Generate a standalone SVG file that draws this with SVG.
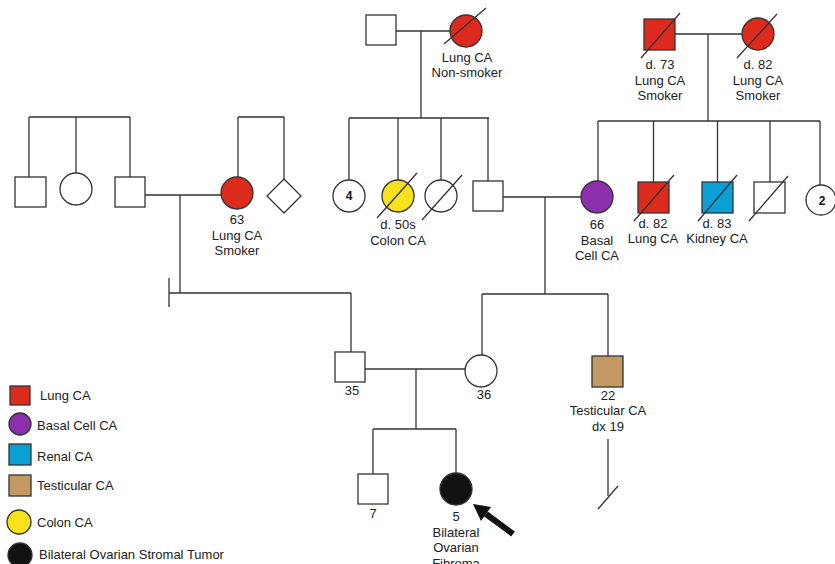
<svg xmlns="http://www.w3.org/2000/svg" width="835" height="564" viewBox="0 0 835 564">
<defs>
<style>
.ln{stroke:#333;stroke-width:1.3;fill:none}
.sh{stroke:#333;stroke-width:1.3}
.t{font-family:"Liberation Sans",Arial,sans-serif;font-size:13px;fill:#222;text-anchor:middle}
.tl{font-family:"Liberation Sans",Arial,sans-serif;font-size:13px;fill:#222}
.n{font-family:"Liberation Sans",Arial,sans-serif;font-size:12px;font-weight:bold;fill:#111;text-anchor:middle}
.w{fill:#fff}
.red{fill:#dc2a1d}
.pur{fill:#8b2fae}
.blu{fill:#0aa0d5}
.brn{fill:#c49a64}
.yel{fill:#f9e11b}
.blk{fill:#111}
</style>
</defs>
<rect width="835" height="564" fill="#fff"/>
<g id="connectors" class="ln">
<!-- top middle couple -->
<line x1="396" y1="31" x2="450" y2="31"/>
<line x1="421" y1="31" x2="421" y2="118"/>
<line x1="349" y1="118" x2="489" y2="118"/>
<line x1="349" y1="118" x2="349" y2="180"/>
<line x1="398" y1="118" x2="398" y2="180"/>
<line x1="441" y1="118" x2="441" y2="180"/>
<line x1="488" y1="118" x2="488" y2="181"/>
<!-- top right couple -->
<line x1="675" y1="34" x2="742" y2="34"/>
<line x1="708" y1="34" x2="708" y2="121"/>
<line x1="598" y1="121" x2="820" y2="121"/>
<line x1="598" y1="121" x2="598" y2="181"/>
<line x1="653.5" y1="121" x2="653.5" y2="182"/>
<line x1="717.5" y1="121" x2="717.5" y2="182"/>
<line x1="770" y1="121" x2="770" y2="182"/>
<line x1="820" y1="121" x2="820" y2="185"/>
<!-- left sibships -->
<line x1="29" y1="117" x2="130" y2="117"/>
<line x1="29" y1="117" x2="29" y2="177"/>
<line x1="76" y1="117" x2="76" y2="173"/>
<line x1="130" y1="117" x2="130" y2="177"/>
<line x1="238" y1="117" x2="284" y2="117"/>
<line x1="238" y1="117" x2="238" y2="177"/>
<line x1="284" y1="117" x2="284" y2="179"/>
<!-- left couple -->
<line x1="145" y1="195" x2="221" y2="195"/>
<line x1="180" y1="195" x2="180" y2="293"/>
<line x1="169" y1="278" x2="169" y2="307"/>
<line x1="169" y1="293" x2="351" y2="293"/>
<line x1="351" y1="293" x2="351" y2="352"/>
<!-- middle couple -->
<line x1="503" y1="197" x2="581" y2="197"/>
<line x1="545" y1="197" x2="545" y2="294"/>
<line x1="482" y1="294" x2="608" y2="294"/>
<line x1="482" y1="294" x2="482" y2="355"/>
<line x1="608" y1="294" x2="608" y2="356"/>
<!-- lower couple -->
<line x1="365" y1="369" x2="465" y2="369"/>
<line x1="416" y1="369" x2="416" y2="429"/>
<line x1="373" y1="429" x2="456" y2="429"/>
<line x1="373" y1="429" x2="373" y2="474"/>
<line x1="456" y1="429" x2="456" y2="473"/>
<!-- testicular descent line -->
<line x1="608" y1="439" x2="608" y2="496"/>
<line x1="598" y1="509" x2="618" y2="486"/>
</g>
<g id="gm-paternal-grandfather"><rect class="sh w" x="366" y="15" width="30" height="30"/></g>
<g id="gm-paternal-grandmother"><circle class="sh red" cx="466" cy="31" r="16"/><line class="ln" x1="444" y1="44" x2="486" y2="8"/>
<text class="t" x="467" y="62">Lung CA</text><text class="t" x="467" y="77">Non-smoker</text></g>
<g id="gm-maternal-grandfather"><rect class="sh red" x="644" y="19" width="31" height="31"/><line class="ln" x1="641" y1="58" x2="680" y2="13"/>
<text class="t" x="660" y="69">d. 73</text><text class="t" x="660" y="85">Lung CA</text><text class="t" x="660" y="100">Smoker</text></g>
<g id="gm-maternal-grandmother"><circle class="sh red" cx="758" cy="34" r="16"/><line class="ln" x1="737" y1="58" x2="777" y2="14"/>
<text class="t" x="758" y="69">d. 82</text><text class="t" x="758" y="85">Lung CA</text><text class="t" x="758" y="100">Smoker</text></g>
<g id="left-sib1"><rect class="sh w" x="15" y="177" width="31" height="30"/></g>
<g id="left-sib2"><circle class="sh w" cx="76" cy="189" r="16"/></g>
<g id="grandfather"><rect class="sh w" x="115" y="177" width="30" height="30"/></g>
<g id="grandmother"><circle class="sh red" cx="237" cy="193" r="16"/>
<text class="t" x="237" y="224">63</text><text class="t" x="237" y="240">Lung CA</text><text class="t" x="237" y="255">Smoker</text></g>
<g id="grandmother-sib"><polygon class="sh w" points="284,179 301,196 284,213 267,196"/></g>
<g id="aunts-4"><circle class="sh w" cx="349" cy="196" r="16"/><text class="n" x="349" y="200">4</text></g>
<g id="aunt-colon"><circle class="sh yel" cx="398" cy="196" r="16"/><line class="ln" x1="377" y1="218" x2="417" y2="173"/>
<text class="t" x="398" y="229">d. 50s</text><text class="t" x="398" y="245">Colon CA</text></g>
<g id="aunt-deceased"><circle class="sh w" cx="441" cy="196" r="16"/><line class="ln" x1="422" y1="220" x2="462" y2="175"/></g>
<g id="grandfather-m"><rect class="sh w" x="473" y="181" width="30" height="30"/></g>
<g id="grandmother-m"><circle class="sh pur" cx="597" cy="197" r="16"/>
<text class="t" x="597" y="229">66</text><text class="t" x="597" y="245">Basal</text><text class="t" x="597" y="260">Cell CA</text></g>
<g id="uncle-lung"><rect class="sh red" x="638" y="182" width="31" height="31"/><line class="ln" x1="634" y1="221" x2="674" y2="175"/>
<text class="t" x="653" y="228">d. 82</text><text class="t" x="653" y="243">Lung CA</text></g>
<g id="uncle-kidney"><rect class="sh blu" x="702" y="182" width="31" height="31"/><line class="ln" x1="698" y1="221" x2="737" y2="175"/>
<text class="t" x="717" y="228">d. 83</text><text class="t" x="717" y="243">Kidney CA</text></g>
<g id="uncle-deceased"><rect class="sh w" x="754" y="182" width="31" height="31"/><line class="ln" x1="749" y1="221" x2="788" y2="176"/></g>
<g id="aunts-2"><circle class="sh w" cx="821" cy="200" r="15"/><text class="n" x="822" y="205">2</text></g>
<g id="father"><rect class="sh w" x="335" y="352" width="30" height="30"/><text class="t" x="352" y="395">35</text></g>
<g id="mother"><circle class="sh w" cx="481" cy="371" r="16"/><text class="t" x="484" y="399">36</text></g>
<g id="uncle-testicular"><rect class="sh brn" x="592" y="356" width="31" height="31"/>
<text class="t" x="608" y="400">22</text><text class="t" x="608" y="415">Testicular CA</text><text class="t" x="608" y="431">dx 19</text></g>
<g id="brother"><rect class="sh w" x="358" y="474" width="30" height="30"/><text class="t" x="373" y="518">7</text></g>
<g id="proband"><circle class="sh blk" cx="456" cy="489" r="16"/>
<text class="t" x="456" y="521">5</text><text class="t" x="456" y="537">Bilateral</text><text class="t" x="456" y="552">Ovarian</text><text class="t" x="456" y="568">Fibroma</text></g>
<g id="proband-arrow">
<line x1="486" y1="514" x2="513" y2="534" stroke="#111" stroke-width="6"/>
<polygon points="473,504 491,507 481,521" fill="#111"/>
</g>
<g id="legend">
<rect class="sh red" x="10" y="386" width="20" height="19"/><text class="tl" x="40" y="400">Lung CA</text>
<circle class="sh pur" cx="20" cy="424" r="11"/><text class="tl" x="37" y="430">Basal Cell CA</text>
<rect class="sh blu" x="9" y="444" width="22" height="21"/><text class="tl" x="37" y="461">Renal CA</text>
<rect class="sh brn" x="9" y="475" width="22" height="21"/><text class="tl" x="37" y="490">Testicular CA</text>
<circle class="sh yel" cx="19" cy="522" r="12"/><text class="tl" x="37" y="527">Colon CA</text>
<circle class="sh blk" cx="20" cy="555" r="12"/><text class="tl" x="39" y="559">Bilateral Ovarian Stromal Tumor</text>
</g>
</svg>
